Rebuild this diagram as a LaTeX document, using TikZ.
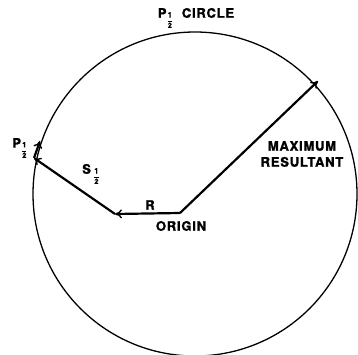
\documentclass[tikz,border=0pt]{standalone}
\usepackage{amsmath}
\usepackage{fontspec}
\setmainfont{TeX Gyre Heros}[BoldFeatures={FakeBold=1.5,LetterSpace=6}]
\usepackage{tikz}
\usetikzlibrary{arrows.meta,calc,positioning}

\newcommand{\halfsub}{\raisebox{-0.7ex}{\fontsize{7.5}{7.5}\selectfont$\dfrac{\text{\bfseries 1}}{\text{\bfseries 2}}$}}

\begin{document}
\begin{tikzpicture}[x=1pt,y=-1pt,
    vec/.style={line width=2.2pt,-{To[length=7pt,width=9pt,line width=1.4pt]}},
    lab/.style={font=\fontsize{13}{16}\selectfont\bfseries,inner sep=1pt}]
  \useasboundingbox (0,0) rectangle (358,355);
  \coordinate (ctr) at (195,194);
  \draw[line width=1.3pt] (ctr) circle[radius=162pt];
  % vectors
  \coordinate (origin) at (180,213);
  \coordinate (rend) at (115,214);
  \coordinate (send) at (34,158);
  \coordinate (pend) at (40,141);
  \coordinate (maxend) at (318,81);
  \draw[vec] (origin) -- (rend);
  \draw[vec] (rend) -- (send);
  \draw[vec] (send) -- (pend);
  \draw[vec] (origin) -- (maxend);
  % labels
  \node[lab] (ttl) at (196,18) {P\halfsub\ \ CIRCLE};
  \node[lab] (plab) at (20,148) {P\halfsub};
  \node[lab] (slab) at (91,174) {S\,\halfsub};
  \node[lab] (rlab) at (150,205) {R};
  \node[lab] (olab) at (181,226) {ORIGIN};
  \node[lab,align=center] (mlab) at (302,154) {MAXIMUM\\RESULTANT};
\end{tikzpicture}
\end{document}
